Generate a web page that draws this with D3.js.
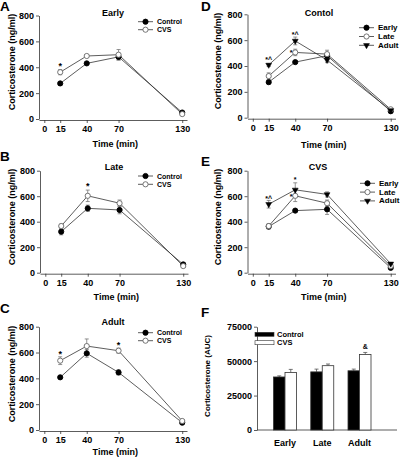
<!DOCTYPE html>
<html><head><meta charset="utf-8">
<script src="https://cdn.jsdelivr.net/npm/d3@7"></script>
<style>
body{margin:0;background:#fff;}
svg{display:block;font-family:"Liberation Sans",Arial,sans-serif;font-weight:bold;}
</style></head><body>
<svg id="c" width="400" height="458"></svg>
<script>
// ---- data ----
const times = [15, 40, 70, 130];
const xTicks = [0, 15, 40, 70, 130];
const yTicks = [0, 200, 400, 600, 800];
const earlyControl = [275, 430, 480, 50];
const earlyControlErr = [12, 8, 25, 5];
const earlyCVS = [362, 487, 497, 38];
const earlyCVSErr = [20, 8, 40, 5];
const lateControl = [322, 505, 492, 65];
const lateControlErr = [25, 25, 30, 5];
const lateCVS = [366, 603, 545, 52];
const lateCVSErr = [15, 45, 25, 8];
const adultControl = [408, 594, 446, 57];
const adultControlErr = [12, 30, 20, 5];
const adultCVS = [537, 650, 614, 70];
const adultCVSErr = [30, 55, 20, 5];
const notesA = [{t: 15, v: 386, text: "*"}];
const notesB = [{t: 40, v: 655, text: "*"}];
const notesC = [{t: 15, v: 565, text: "*"}, {t: 70, v: 635, text: "*"}];
const notesD = [{t: 15, v: 428, text: "*^"}, {t: 40, v: 625, text: "*^"}, {t: 40, v: 485, text: "*", dx: -4}];
const notesE = [{t: 15, v: 565, text: "*^"}, {t: 40, v: 711, text: "*"}, {t: 40, v: 578, text: "*", dx: -4}];
const aucGroups = ["Early", "Late", "Adult"];
const aucControl = [38500, 42200, 43000];
const aucControlErr = [800, 2000, 1200];
const aucCVS = [41800, 46700, 54800];
const aucCVSErr = [2200, 1200, 1500];
const aucTicks = [0, 25000, 50000, 75000];
const aucNotes = [{g: "Adult", v: 58500, text: "&"}];

// ---- drawing ----
const svg = d3.select("#c");
const LINE = "#333";
const OPEN = "#666";

function marker(g, kind, cx, cy) {
  if (kind === "tri") {
    g.append("path").attr("d", d3.symbol(d3.symbolTriangle, 15)())
      .attr("transform", `translate(${cx},${cy}) rotate(180)`)
      .attr("fill", "#000").attr("stroke", "#000").attr("stroke-width", 0.5);
  } else {
    g.append("circle").attr("cx", cx).attr("cy", cy).attr("r", 2.6)
      .attr("fill", kind === "open" ? "#fff" : "#000")
      .attr("stroke", kind === "open" ? OPEN : "#000").attr("stroke-width", 0.9);
  }
}

function styleAxis(sel) {
  sel.selectAll("path,line").attr("stroke", "#333").attr("stroke-width", 0.8);
  sel.selectAll("text").attr("font-size", 9).attr("font-weight", "bold")
    .attr("font-family", '"Liberation Sans",Arial,sans-serif').attr("fill", "#000");
}

function linePanel(p) {
  const g = svg.append("g");
  const x = d3.scaleLinear().domain([-5, 134.5]).range([p.ax, p.ax + 148]);
  const y = d3.scaleLinear().domain([0, 800]).range([p.bottom, p.top]);
  g.append("g").attr("transform", `translate(${p.ax},0)`)
    .call(d3.axisLeft(y).tickValues(yTicks).tickSize(3).tickPadding(2).tickSizeOuter(0))
    .call(styleAxis);
  g.append("g").attr("transform", `translate(0,${p.bottom + 1})`)
    .call(d3.axisBottom(x).tickValues(xTicks).tickSize(3).tickPadding(3).tickSizeOuter(0))
    .call(styleAxis);
  svg.append("text").attr("x", p.lx).attr("y", p.ly).attr("font-size", 13.5).text(p.letter);
  g.append("text").attr("x", p.tx).attr("y", p.ty).attr("text-anchor", "middle").attr("font-size", 9).text(p.title);
  g.append("text").attr("x", (x(0) + x(130)) / 2 + 2).attr("y", p.xly).attr("text-anchor", "middle").attr("font-size", 9).text("Time (min)");
  g.append("text").attr("transform", `translate(${p.ylx},${p.yly}) rotate(-90)`)
    .attr("text-anchor", "middle").attr("dominant-baseline", "central").attr("font-size", 9).text("Corticosterone (ng/ml)");
  const line = d3.line().x((d, i) => x(times[i])).y(d => y(d));
  p.series.forEach(s => {
    g.append("path").attr("d", line(s.v)).attr("fill", "none").attr("stroke", LINE).attr("stroke-width", 0.8);
  });
  p.series.forEach(s => {
    s.v.forEach((v, i) => {
      const cx = x(times[i]), e = s.e[i];
      g.append("line").attr("x1", cx).attr("x2", cx).attr("y1", y(v - e)).attr("y2", y(v + e)).attr("stroke", "#777").attr("stroke-width", 0.8);
      [v - e, v + e].forEach(w => g.append("line").attr("x1", cx - 2).attr("x2", cx + 2).attr("y1", y(w)).attr("y2", y(w)).attr("stroke", "#777").attr("stroke-width", 0.8));
    });
  });
  p.series.forEach(s => s.v.forEach((v, i) => marker(g, s.m, x(times[i]), y(v))));
  p.notes.forEach(n => g.append("text").attr("x", x(n.t) + (n.dx || 0)).attr("y", y(n.v))
    .attr("text-anchor", "middle").attr("font-size", p.noteFs).attr("fill", "#000").text(n.text));
  p.series.forEach((s, i) => {
    const ly = p.leg.y + i * p.leg.dy;
    g.append("line").attr("x1", p.leg.x).attr("x2", p.leg.x + 15).attr("y1", ly).attr("y2", ly).attr("stroke", LINE).attr("stroke-width", 0.8);
    marker(g, s.m, p.leg.x + 7.5, ly);
    g.append("text").attr("x", p.leg.tx).attr("y", ly).attr("dominant-baseline", "central").attr("font-size", p.leg.fs).text(s.name);
  });
}

const panels = [
  {letter: "A", lx: 0, ly: 11, ax: 39, top: 15.5, bottom: 119, title: "Early", tx: 113, ty: 15.5, xly: 146.5, ylx: 12, yly: 62, noteFs: 9,
   series: [{name: "Control", v: earlyControl, e: earlyControlErr, m: "filled"}, {name: "CVS", v: earlyCVS, e: earlyCVSErr, m: "open"}],
   leg: {x: 138, y: 21.7, dy: 8, tx: 157, fs: 7}, notes: notesA},
  {letter: "B", lx: 0, ly: 161, ax: 40, top: 170.7, bottom: 272.7, title: "Late", tx: 114, ty: 169.5, xly: 300, ylx: 12, yly: 217, noteFs: 9,
   series: [{name: "Control", v: lateControl, e: lateControlErr, m: "filled"}, {name: "CVS", v: lateCVS, e: lateCVSErr, m: "open"}],
   leg: {x: 138, y: 176, dy: 8.3, tx: 157, fs: 7}, notes: notesB},
  {letter: "C", lx: 0, ly: 313, ax: 39, top: 326.7, bottom: 430, title: "Adult", tx: 113, ty: 325, xly: 455, ylx: 12, yly: 374, noteFs: 9,
   series: [{name: "Control", v: adultControl, e: adultControlErr, m: "filled"}, {name: "CVS", v: adultCVS, e: adultCVSErr, m: "open"}],
   leg: {x: 138, y: 332.7, dy: 8, tx: 157, fs: 7}, notes: notesC},
  {letter: "D", lx: 201, ly: 11, ax: 247.5, top: 14.3, bottom: 117.7, title: "Contol", tx: 319, ty: 16, xly: 148, ylx: 218, yly: 61, noteFs: 7,
   series: [{name: "Early", v: earlyControl, e: earlyControlErr, m: "filled"}, {name: "Late", v: lateControl, e: lateControlErr, m: "open"}, {name: "Adult", v: adultControl, e: adultControlErr, m: "tri"}],
   leg: {x: 359, y: 27.7, dy: 8.8, tx: 378, fs: 8}, notes: notesD},
  {letter: "E", lx: 201, ly: 166, ax: 247.5, top: 170.7, bottom: 272.7, title: "CVS", tx: 318, ty: 170, xly: 300, ylx: 218, yly: 217, noteFs: 7,
   series: [{name: "Early", v: earlyCVS, e: earlyCVSErr, m: "filled"}, {name: "Late", v: lateCVS, e: lateCVSErr, m: "open"}, {name: "Adult", v: adultCVS, e: adultCVSErr, m: "tri"}],
   leg: {x: 360, y: 183.3, dy: 8.8, tx: 379, fs: 8}, notes: notesE}
];
panels.forEach(linePanel);

// ---- panel F: bars ----
(function () {
  const ax = 257, top = 326.7, bottom = 430, right = 397, bw = 11.5;
  const g = svg.append("g");
  const y = d3.scaleLinear().domain([0, 75000]).range([bottom, top]);
  const x = d3.scalePoint().domain(aucGroups).range([285, 359.5]);
  g.append("g").attr("transform", `translate(${ax},0)`)
    .call(d3.axisLeft(y).tickValues(aucTicks).tickFormat(d3.format("d")).tickSize(3).tickPadding(2).tickSizeOuter(0)).call(styleAxis);
  g.append("line").attr("x1", ax).attr("x2", right).attr("y1", bottom).attr("y2", bottom).attr("stroke", "#333").attr("stroke-width", 0.8);
  aucGroups.forEach((c, i) => {
    g.append("text").attr("x", x(c)).attr("y", bottom + 16).attr("text-anchor", "middle").attr("font-size", 9).text(c);
    [[aucControl, aucControlErr, -bw, "#000"], [aucCVS, aucCVSErr, 0, "#fff"]].forEach(([vals, errs, off, fill]) => {
      const bx = x(c) + off, v = vals[i], e = errs[i];
      g.append("line").attr("x1", bx + bw / 2).attr("x2", bx + bw / 2).attr("y1", y(v)).attr("y2", y(v + e)).attr("stroke", "#555").attr("stroke-width", 0.8);
      g.append("line").attr("x1", bx + bw / 2 - 2).attr("x2", bx + bw / 2 + 2).attr("y1", y(v + e)).attr("y2", y(v + e)).attr("stroke", "#555").attr("stroke-width", 0.8);
      g.append("rect").attr("x", bx).attr("y", y(v)).attr("width", bw).attr("height", bottom - y(v))
        .attr("fill", fill).attr("stroke", "#333").attr("stroke-width", 0.8);
    });
  });
  aucNotes.forEach(n => g.append("text").attr("x", x(n.g) + bw / 2).attr("y", y(n.v)).attr("text-anchor", "middle").attr("font-size", 7).text(n.text));
  svg.append("text").attr("x", 201).attr("y", 317).attr("font-size", 13.5).text("F");
  g.append("text").attr("transform", `translate(207,376) rotate(-90)`).attr("text-anchor", "middle")
    .attr("dominant-baseline", "central").attr("font-size", 8).text("Corticosterone (AUC)");
  [["Control", "#000"], ["CVS", "#fff"]].forEach(([name, fill], i) => {
    const ly = 334.3 + i * 8.4;
    g.append("rect").attr("x", 255).attr("y", ly - 2).attr("width", 19).attr("height", 4).attr("fill", fill).attr("stroke", "#333").attr("stroke-width", 0.6);
    g.append("text").attr("x", 277).attr("y", ly).attr("dominant-baseline", "central").attr("font-size", 7.5).text(name);
  });
})();
</script>
</body></html>
